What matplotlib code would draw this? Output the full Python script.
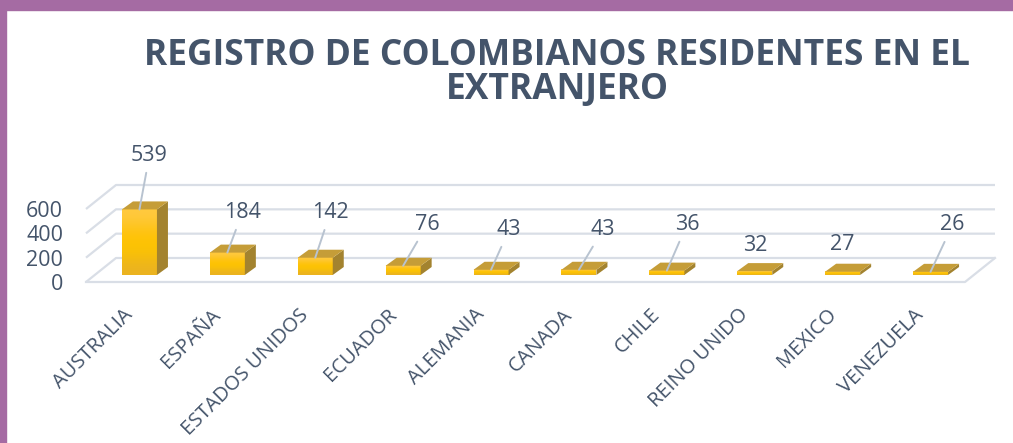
import numpy as np
import matplotlib
matplotlib.use('Agg')
import matplotlib.pyplot as plt
from matplotlib.patches import Polygon, Rectangle

plt.rcParams['font.family'] = ['Open Sans', 'DejaVu Sans']

# data
paises = ['AUSTRALIA', 'ESPAÑA', 'ESTADOS UNIDOS', 'ECUADOR', 'ALEMANIA',
          'CANADA', 'CHILE', 'REINO UNIDO', 'MEXICO', 'VENEZUELA']
registros = [539, 184, 142, 76, 43, 43, 36, 32, 27, 26]
yticks_ = [0, 200, 400, 600]
titulo = 'REGISTRO DE COLOMBIANOS RESIDENTES EN EL\nEXTRANJERO'

# label placement (pixels from bar top) and whether Excel drew a leader line
label_off = [(10, -54), (15, -40), (15, -45), (24, -41), (18, -40),
             (24, -40), (20, -46), (0, -26), (0, -27), (22, -47)]
leader = [True, True, True, True, True, True, True, False, False, True]

texto = '#44546A'
grid = '#D9DEE6'

W, H = 1013, 443
fig = plt.figure(figsize=(W / 100, H / 100), dpi=100)

# purple frame (top and left)
fig.patches.append(Rectangle((0, 1 - 10 / H), 1, 10 / H, transform=fig.transFigure,
                             color='#A56BA3', zorder=0))
fig.patches.append(Rectangle((0, 0), 6 / W, 1, transform=fig.transFigure,
                             color='#A56BA3', zorder=0))

# plot area: front floor line from x=86px to 965px at y=282px
px_y = 73 / 600.0          # pixels per unit
ymax = 1000
ax = fig.add_axes([86 / W, (H - 282) / H, 879 / W, ymax * px_y / H])
ax.set_xlim(-0.5, len(paises) - 0.5)
ax.set_ylim(0, ymax)
for s in ax.spines.values():
    s.set_visible(False)

cx = 1 / 87.9      # category units per pixel
cy = 1 / px_y      # value units per pixel

# 3D depth of the floor / back wall
dx, dy = 30 * cx, 24 * cy
x0, x1 = -0.5, len(paises) - 0.5
for v in yticks_:
    ax.plot([x0, x0 + dx, x1 + dx], [v, v + dy, v + dy], color=grid, lw=1.6,
            clip_on=False, zorder=1, solid_capstyle='butt')
ax.plot([x0, x1, x1 + dx], [0, 0, dy], color=grid, lw=1.6, clip_on=False, zorder=1)

# bars with a faux 3D look
w = 35 * cx
ox, oy = 9.5 * cx, 7 * cy
bdx, bdy = 11 * cx, 8 * cy
grad = np.array([[1.0, 0.79, 0.25], [1.0, 0.76, 0.03], [0.99, 0.77, 0.0],
                 [0.92, 0.70, 0.13]])[:, None, :]
for i, v in enumerate(registros):
    l = i + ox - w / 2
    r = i + ox + w / 2
    b = oy
    t = oy + v
    ax.imshow(grad, extent=(l, r, b, t), aspect='auto', interpolation='bicubic',
              zorder=3)
    ax.add_patch(Polygon([(r, b), (r + bdx, b + bdy), (r + bdx, t + bdy), (r, t)],
                         closed=True, fc='#A3832F', ec='none', zorder=3))
    ax.add_patch(Polygon([(l, t), (r, t), (r + bdx, t + bdy), (l + bdx, t + bdy)],
                         closed=True, fc='#C59D38', ec='none', zorder=3))
    ox_pt, oy_pt = label_off[i]
    ap = dict(arrowstyle='-', color='#B8C3D0', lw=1.4, shrinkA=3, shrinkB=0) if leader[i] else None
    ax.annotate(str(v), xy=(i + ox, t), xytext=(ox_pt * 0.72, -oy_pt * 0.72),
                textcoords='offset points', ha='center', va='center',
                fontsize=15.5, color=texto, arrowprops=ap, zorder=4,
                annotation_clip=False)

ax.set_xlim(-0.5, len(paises) - 0.5)
ax.set_ylim(0, ymax)
ax.set_yticks(yticks_)
ax.set_xticks(range(len(paises)))
ax.set_xticklabels(paises)
ax.tick_params(axis='y', length=0, pad=16.5, labelsize=15.5, labelcolor=texto)
ax.tick_params(axis='x', length=0, pad=21.5, labelsize=14.5, labelcolor=texto)
for lab in ax.get_xticklabels():
    lab.set_rotation(45)
    lab.set_ha('right')
    lab.set_va('center')
    lab.set_rotation_mode('anchor')

# two title lines, tight spacing as in the original
for k, linea in enumerate(titulo.split('\n')):
    fig.text(557 / W, 1 - (65 + 34 * k) / H, linea, ha='center', va='baseline',
             fontsize=25.5, fontweight='bold', color=texto)

fig.savefig('out.png', dpi=100)
